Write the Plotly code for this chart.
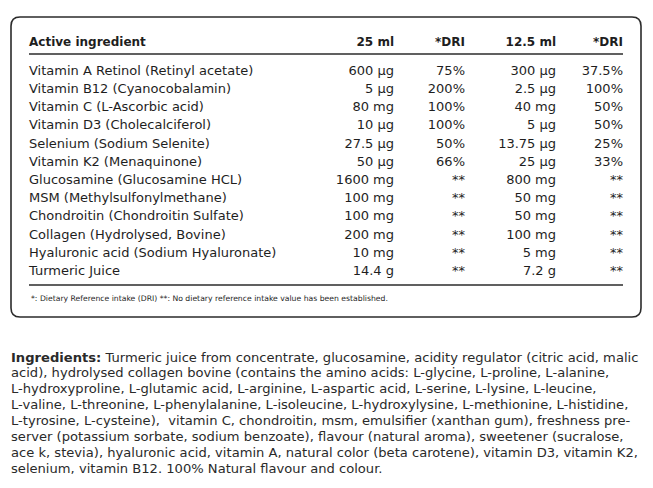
import plotly.graph_objects as go

# Dados da tabela
ingredientes = [
    "Vitamin A Retinol (Retinyl acetate)",
    "Vitamin B12 (Cyanocobalamin)",
    "Vitamin C (L-Ascorbic acid)",
    "Vitamin D3 (Cholecalciferol)",
    "Selenium (Sodium Selenite)",
    "Vitamin K2 (Menaquinone)",
    "Glucosamine (Glucosamine HCL)",
    "MSM (Methylsulfonylmethane)",
    "Chondroitin (Chondroitin Sulfate)",
    "Collagen (Hydrolysed, Bovine)",
    "Hyaluronic acid (Sodium Hyaluronate)",
    "Turmeric Juice",
]
dose_25 = ["600 µg", "5 µg", "80 mg", "10 µg", "27.5 µg", "50 µg",
           "1600 mg", "100 mg", "100 mg", "200 mg", "10 mg", "14.4 g"]
dri_25 = ["75%", "200%", "100%", "100%", "50%", "66%",
          "**", "**", "**", "**", "**", "**"]
dose_12 = ["300 µg", "2.5 µg", "40 mg", "5 µg", "13.75 µg", "25 µg",
           "800 mg", "50 mg", "50 mg", "100 mg", "5 mg", "7.2 g"]
dri_12 = ["37.5%", "100%", "50%", "50%", "25%", "33%",
          "**", "**", "**", "**", "**", "**"]
cabecalho = ["Active ingredient", "25 ml", "*DRI", "12.5 ml", "*DRI"]

rodape = ("*: Dietary Reference intake (DRI) **: No dietary reference intake "
          "value has been established.")

linhas_ingredientes = [
    "<b>Ingredients:</b> Turmeric juice from concentrate, glucosamine, acidity regulator (citric acid, malic",
    "acid), hydrolysed collagen bovine (contains the amino acids: L-glycine, L-proline, L-alanine,",
    "L-hydroxyproline, L-glutamic acid, L-arginine, L-aspartic acid, L-serine, L-lysine, L-leucine,",
    "L-valine, L-threonine, L-phenylalanine, L-isoleucine, L-hydroxylysine, L-methionine, L-histidine,",
    "L-tyrosine, L-cysteine),  vitamin C, chondroitin, msm, emulsifier (xanthan gum), freshness pre-",
    "server (potassium sorbate, sodium benzoate), flavour (natural aroma), sweetener (sucralose,",
    "ace k, stevia), hyaluronic acid, vitamin A, natural color (beta carotene), vitamin D3, vitamin K2,",
    "selenium, vitamin B12. 100% Natural flavour and colour.",
]

# Layout em pixels (a página tem margem de 8 px no body)
FONTE = "DejaVu Sans"
COR = "#1e1e1e"
x_cols = [29, 394, 465, 556, 623]
y_cab = 42.5
y0, passo = 71.5, 18.2
ys = [y0 + i * passo for i in range(len(ingredientes))]

fig = go.Figure()

# Colunas da tabela
colunas = [ingredientes, dose_25, dri_25, dose_12, dri_12]
for j, col in enumerate(colunas):
    fig.add_trace(go.Scatter(
        x=[x_cols[j]] * len(col), y=ys, mode="text", text=col,
        textposition="middle right" if j == 0 else "middle left",
        textfont=dict(family=FONTE, size=13, color=COR),
        hoverinfo="skip", showlegend=False,
    ))

# Cabeçalho
fig.add_trace(go.Scatter(
    x=x_cols, y=[y_cab] * len(cabecalho), mode="text",
    text=[f"<b>{c}</b>" for c in cabecalho],
    textposition=["middle right"] + ["middle left"] * 4,
    textfont=dict(family=FONTE, size=12, color=COR),
    hoverinfo="skip", showlegend=False,
))

# Rodapé da tabela
fig.add_annotation(x=29, y=298.5, text=rodape, xanchor="left", yanchor="middle",
                   showarrow=False, font=dict(family=FONTE, size=7.7, color=COR))

# Texto de ingredientes
for i, linha in enumerate(linhas_ingredientes):
    fig.add_annotation(x=9, y=357 + i * 15.9, text=linha, xanchor="left",
                       yanchor="middle", showarrow=False,
                       font=dict(family=FONTE, size=13.1, color="#2a2a2a"))

# Caixa arredondada e linhas
r = 9
x1, x2, yt, yb = 11, 641, 17, 317
caminho = (f"M {x1+r},{yt} L {x2-r},{yt} Q {x2},{yt} {x2},{yt+r} "
           f"L {x2},{yb-r} Q {x2},{yb} {x2-r},{yb} L {x1+r},{yb} "
           f"Q {x1},{yb} {x1},{yb-r} L {x1},{yt+r} Q {x1},{yt} {x1+r},{yt} Z")
fig.add_shape(type="path", path=caminho, line=dict(color="#2b2b2b", width=1.6))
fig.add_shape(type="line", x0=29, x1=623, y0=54, y1=54,
              line=dict(color="#2b2b2b", width=1.6))
fig.add_shape(type="line", x0=29, x1=623, y0=285, y1=285,
              line=dict(color="#2b2b2b", width=1.6))

fig.update_layout(
    width=653, height=488,
    margin=dict(l=0, r=0, t=0, b=0),
    paper_bgcolor="white", plot_bgcolor="white",
    xaxis=dict(range=[8, 661], visible=False, fixedrange=True),
    yaxis=dict(range=[496, 8], visible=False, fixedrange=True),
)

fig.write_html("out.html")
